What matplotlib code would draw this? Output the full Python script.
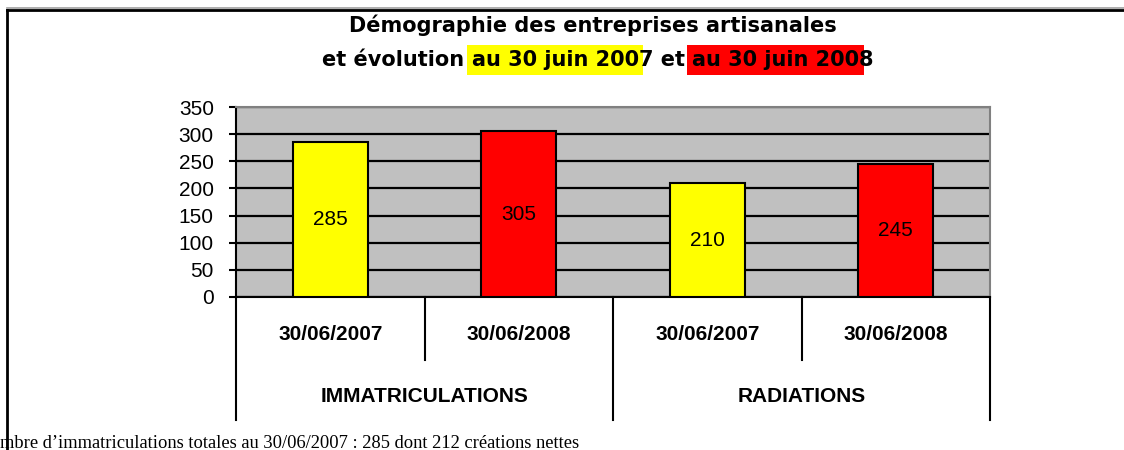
import matplotlib.pyplot as plt
from matplotlib.lines import Line2D

# data
dates = ['30/06/2007', '30/06/2008', '30/06/2007', '30/06/2008']
groups = ['IMMATRICULATIONS', 'RADIATIONS']
values = [285, 305, 210, 245]
bar_colors = ['#FFFF00', '#FF0000', '#FFFF00', '#FF0000']
yticks = [0, 50, 100, 150, 200, 250, 300, 350]

plt.rcParams['font.family'] = ['Liberation Sans', 'DejaVu Sans']

fig = plt.figure(figsize=(11.24, 4.5), dpi=100)
W, H = 1124, 450

# page frame (left rule and top rule)
fig.add_artist(Line2D([7 / W, 1], [1 - 8 / H, 1 - 8 / H], color='#a0a0a0', lw=1.2))
fig.add_artist(Line2D([7 / W, 1], [1 - 10 / H, 1 - 10 / H], color='black', lw=2))
fig.add_artist(Line2D([7 / W, 7 / W], [0, 1 - 10 / H], color='black', lw=2))

ax = fig.add_axes([236 / W, 1 - 297 / H, (990 - 236) / W, (297 - 107) / H])
ax.set_facecolor('#C0C0C0')

x = range(len(values))
ax.bar(x, values, width=0.4, color=bar_colors, edgecolor='black', linewidth=1.5, zorder=3)
for xi, v in zip(x, values):
    ax.text(xi, v / 2, str(v), ha='center', va='center', fontsize=15, zorder=4)

ax.set_xlim(-0.5, len(values) - 0.5)
ax.set_ylim(0, 350)
ax.set_yticks(yticks)
ax.tick_params(axis='y', labelsize=15, length=5, width=1.5, direction='out', pad=11)
ax.set_xticks([])
ax.grid(axis='y', color='black', lw=1.6, zorder=1)
ax.set_axisbelow(True)

for s in ['top', 'right']:
    ax.spines[s].set_color('#808080')
    ax.spines[s].set_linewidth(1.5)
for s in ['left', 'bottom']:
    ax.spines[s].set_color('black')
    ax.spines[s].set_linewidth(1.5)

# category table below the axis
tr = ax.get_xaxis_transform()
inner = -63 / 190
outer = -123 / 190
for xs, y0 in [(-0.5, outer), (0.5, inner), (1.5, outer), (2.5, inner), (3.5, outer)]:
    ax.plot([xs, xs], [0, y0], color='black', lw=1.5, transform=tr, clip_on=False)
for xi, d in zip(x, dates):
    ax.text(xi, -37 / 190, d, transform=tr, ha='center', va='center',
            fontsize=15, fontweight='bold')
for gi, g in enumerate(groups):
    ax.text(2 * gi + 0.5, -100 / 190, g, transform=tr, ha='center', va='center',
            fontsize=15, fontweight='bold')

# title
tfont = dict(fontsize=15, fontweight='bold', family=['DejaVu Sans'])
fig.text(593 / W, 1 - 25 / H, 'Démographie des entreprises artisanales',
         ha='center', va='center', **tfont)
parts = [('et évolution ', None), ('au 30 juin 200', '#FFFF00'), ('7 et ', None),
         ('au 30 juin 200', '#FF0000'), ('8', None)]
texts = []
for s, bg in parts:
    bb = dict(boxstyle='square,pad=0.22', fc=bg, ec='none') if bg else None
    texts.append(fig.text(0, 1 - 60 / H, s, ha='left', va='center', bbox=bb, **tfont))

fig.canvas.draw()
r = fig.canvas.get_renderer()
# widths without the bbox padding
widths = []
for t in texts:
    p = t.get_bbox_patch()
    t.set_bbox(None)
    widths.append(t.get_window_extent(r).width)
    if p is not None:
        t.set_bbox(dict(boxstyle='square,pad=0.22', fc=p.get_facecolor(), ec='none'))
total = sum(widths)
x0 = 598 - total / 2
for t, w in zip(texts, widths):
    t.set_position((x0 / W, 1 - 60 / H))
    x0 += w

# footnote (left part hidden behind the page edge in the source)
fig.text(0 / W, 1 - 443 / H,
         'mbre d\u2019immatriculations totales au 30/06/2007 : 285 dont 212 créations nettes',
         ha='left', va='center', fontsize=13.3, family=['Liberation Serif'])

fig.savefig('out.png', dpi=100)
